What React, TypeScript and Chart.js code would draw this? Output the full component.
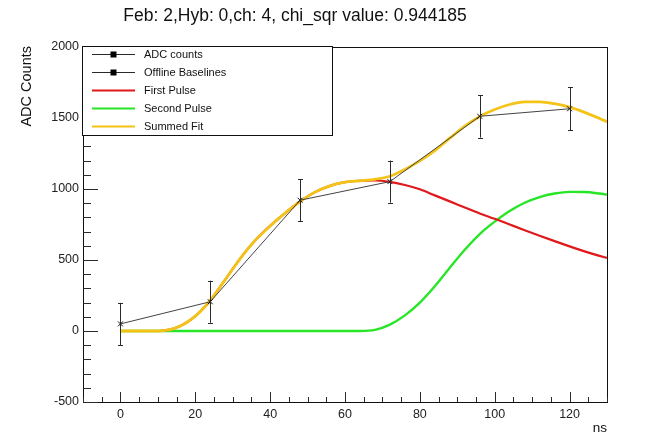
import React, { useEffect, useRef } from "react";
import { Chart, registerables } from "chart.js";

Chart.register(...registerables);

const titleText = "Feb: 2,Hyb: 0,ch: 4, chi_sqr value: 0.944185";
const xTitle = "ns";
const yTitle = "ADC Counts";

// axis tick labels
const xTickValues = [0, 20, 40, 60, 80, 100, 120];
const yTickValues = [-500, 0, 500, 1000, 1500, 2000];

// ADC samples
const adcX = [0, 24, 48, 72, 96, 120];
const adcY = [50, 206, 921, 1052, 1512, 1565];
const adcErr = [148, 148, 148, 148, 150, 152];
const offlineBaselines: { x: number; y: number }[] = [];

// fitted curves sampled at these times (ns)
const curveX = [0, 4, 8, 10, 12, 14, 16, 18, 20, 22, 24, 26, 28, 30, 33, 36, 40, 44, 48, 52, 56, 60, 64, 68, 72, 76, 80, 84, 88, 92, 96, 100, 104, 108, 112, 116, 120, 124, 128, 130];
const firstPulse = [0, 0, 0, 0, 4, 15, 35, 65, 105, 155, 215, 287, 362, 437, 545, 638, 740, 830, 912, 978, 1022, 1048, 1058, 1060, 1050, 1028, 998, 955, 913, 870, 828, 790, 750, 710, 671, 633, 596, 561, 529, 514];
const secondPulse = [0, 0, 0, 0, 0, 0, 0, 0, 0, 0, 0, 0, 0, 0, 0, 0, 0, 0, 0, 0, 0, 0, 0, 8, 45, 110, 200, 315, 445, 572, 683, 770, 845, 903, 943, 968, 980, 979, 968, 960];
const summedFit = [0, 0, 0, 0, 4, 15, 35, 65, 105, 155, 215, 287, 362, 437, 545, 638, 740, 830, 912, 978, 1022, 1048, 1058, 1068, 1090, 1138, 1198, 1270, 1358, 1442, 1511, 1560, 1595, 1613, 1614, 1601, 1576, 1540, 1497, 1474];

const legendLabels = ["ADC counts", "Offline Baselines", "First Pulse", "Second Pulse", "Summed Fit"];

const FONT = "'Liberation Sans', Arial, Helvetica, sans-serif";
const RED = "#e0191c";
const GREEN = "#26e626";
const YELLOW = "#f4c317";
const DARK = "#2a2a2a";

const pts = (xs: number[], ys: number[]) => xs.map((x, i) => ({ x, y: ys[i] }));

const decorPlugin = {
  id: "decor",
  beforeDraw(chart: any) {
    const ctx = chart.ctx;
    ctx.save();
    ctx.fillStyle = "#ffffff";
    ctx.fillRect(0, 0, chart.width, chart.height);
    ctx.restore();
  },
  afterDatasetsDraw(chart: any) {
    const ctx = chart.ctx;
    const xs = chart.scales.x;
    const ys = chart.scales.y;
    // error bars
    ctx.save();
    ctx.strokeStyle = DARK;
    ctx.lineWidth = 1;
    for (let i = 0; i < adcX.length; i++) {
      const px = Math.round(xs.getPixelForValue(adcX[i])) + 0.5;
      const yt = ys.getPixelForValue(adcY[i] + adcErr[i]);
      const yb = ys.getPixelForValue(adcY[i] - adcErr[i]);
      ctx.beginPath();
      ctx.moveTo(px, yt);
      ctx.lineTo(px, yb);
      ctx.moveTo(px - 2.5, Math.round(yt) + 0.5);
      ctx.lineTo(px + 2.5, Math.round(yt) + 0.5);
      ctx.moveTo(px - 2.5, Math.round(yb) + 0.5);
      ctx.lineTo(px + 2.5, Math.round(yb) + 0.5);
      ctx.stroke();
    }
    ctx.restore();
  },
  afterDraw(chart: any) {
    const ctx = chart.ctx;
    const xs = chart.scales.x;
    const ys = chart.scales.y;
    const a = chart.chartArea;
    ctx.save();
    // frame
    ctx.strokeStyle = "#111";
    ctx.lineWidth = 1;
    ctx.strokeRect(Math.round(a.left) + 0.5, Math.round(a.top) + 0.5, Math.round(a.right - a.left), Math.round(a.bottom - a.top));
    // ticks
    ctx.strokeStyle = DARK;
    ctx.beginPath();
    for (let v = -10; v <= 130; v += 5) {
      const px = Math.round(xs.getPixelForValue(v)) + 0.5;
      const len = v % 20 === 0 ? 10 : 5;
      ctx.moveTo(px, a.bottom);
      ctx.lineTo(px, a.bottom - len);
    }
    for (let v = -500; v <= 2000; v += 100) {
      const py = Math.round(ys.getPixelForValue(v)) + 0.5;
      const len = v % 500 === 0 ? 15 : 8;
      ctx.moveTo(a.left, py);
      ctx.lineTo(a.left + len, py);
    }
    ctx.stroke();

    // title
    ctx.fillStyle = "#111";
    ctx.font = `17.5px ${FONT}`;
    ctx.textAlign = "center";
    ctx.textBaseline = "alphabetic";
    ctx.fillText(titleText, 295, 21);

    // x title
    ctx.font = `13.5px ${FONT}`;
    ctx.textAlign = "right";
    ctx.fillText(xTitle, a.right, 432);

    // y title
    ctx.save();
    ctx.translate(27, a.top - 1);
    ctx.rotate(-Math.PI / 2);
    ctx.font = `14.5px ${FONT}`;
    ctx.textAlign = "right";
    ctx.textBaseline = "middle";
    ctx.fillText(yTitle, 0, 0);
    ctx.restore();

    // legend
    const lx = Math.round(a.left) - 1;
    const ly = Math.round(a.top) - 1;
    const lw = 250;
    const lh = 89;
    ctx.fillStyle = "#fff";
    ctx.fillRect(lx, ly, lw, lh);
    ctx.strokeStyle = "#111";
    ctx.strokeRect(lx + 0.5, ly + 0.5, lw, lh);
    const rowY = [54.5, 72.5, 90.5, 108.5, 126.5];
    const colors = [DARK, DARK, RED, GREEN, YELLOW];
    for (let i = 0; i < legendLabels.length; i++) {
      const y = rowY[i];
      ctx.strokeStyle = colors[i];
      ctx.lineWidth = i < 2 ? 1 : 2;
      ctx.beginPath();
      ctx.moveTo(92, y);
      ctx.lineTo(135, y);
      ctx.stroke();
      if (i < 2) {
        ctx.fillStyle = "#000";
        ctx.fillRect(110.5, y - 3, 6, 6);
      }
      ctx.fillStyle = "#111";
      ctx.font = `11px ${FONT}`;
      ctx.textAlign = "left";
      ctx.textBaseline = "middle";
      ctx.fillText(legendLabels[i], 144, y);
    }
    ctx.restore();
  },
};

export default function App() {
  const ref = useRef<HTMLCanvasElement | null>(null);
  useEffect(() => {
    if (!ref.current) return;
    const tickFont = { family: FONT, size: 12.5 };
    const chart = new Chart(ref.current, {
      type: "scatter",
      data: {
        datasets: [
          {
            label: legendLabels[0],
            data: pts(adcX, adcY),
            showLine: true,
            borderColor: "#444",
            borderWidth: 1,
            pointStyle: "crossRot",
            pointRadius: 3.5,
            pointBorderColor: "#111",
            pointBorderWidth: 1,
            tension: 0,
            order: 0,
          },
          {
            label: legendLabels[1],
            data: offlineBaselines,
            showLine: true,
            borderColor: "#000",
            borderWidth: 1,
            pointRadius: 0,
            order: 0,
          },
          {
            label: legendLabels[2],
            data: pts(curveX, firstPulse),
            showLine: true,
            borderColor: RED,
            borderWidth: 2.2,
            pointRadius: 0,
            cubicInterpolationMode: "monotone",
            order: 2,
          },
          {
            label: legendLabels[3],
            data: pts(curveX, secondPulse),
            showLine: true,
            borderColor: GREEN,
            borderWidth: 2.4,
            pointRadius: 0,
            cubicInterpolationMode: "monotone",
            order: 3,
          },
          {
            label: legendLabels[4],
            data: pts(curveX, summedFit),
            showLine: true,
            borderColor: YELLOW,
            borderWidth: 2.8,
            pointRadius: 0,
            cubicInterpolationMode: "monotone",
            order: 1,
          },
        ],
      },
      options: {
        responsive: false,
        animation: false,
        events: [],
        layout: { padding: { top: 47, right: 57, left: 0, bottom: 0 } },
        plugins: {
          legend: { display: false },
          title: { display: false },
          tooltip: { enabled: false },
        },
        scales: {
          x: {
            type: "linear",
            min: -10,
            max: 130,
            afterBuildTicks: (s: any) => {
              s.ticks = xTickValues.map((v) => ({ value: v }));
            },
            afterFit: (s: any) => {
              s.height = 39;
            },
            grid: { display: false, drawTicks: false },
            border: { display: false },
            ticks: { padding: 5, font: tickFont, color: "#222", maxRotation: 0, autoSkip: false, callback: (v: any) => String(v) },
          },
          y: {
            type: "linear",
            min: -500,
            max: 2000,
            afterBuildTicks: (s: any) => {
              s.ticks = yTickValues.map((v) => ({ value: v }));
            },
            afterFit: (s: any) => {
              s.width = 83;
            },
            grid: { display: false, drawTicks: false },
            border: { display: false },
            ticks: { padding: 4, font: tickFont, color: "#222", autoSkip: false, callback: (v: any) => String(v) },
          },
        },
      },
      plugins: [decorPlugin],
    } as any);
    return () => chart.destroy();
  }, []);
  return (
    <div style={{ position: "fixed", left: 0, top: 0, width: 664, height: 441, background: "#fff" }}>
      <canvas ref={ref} width={664} height={441} style={{ display: "block", width: 664, height: 441 }} />
    </div>
  );
}
